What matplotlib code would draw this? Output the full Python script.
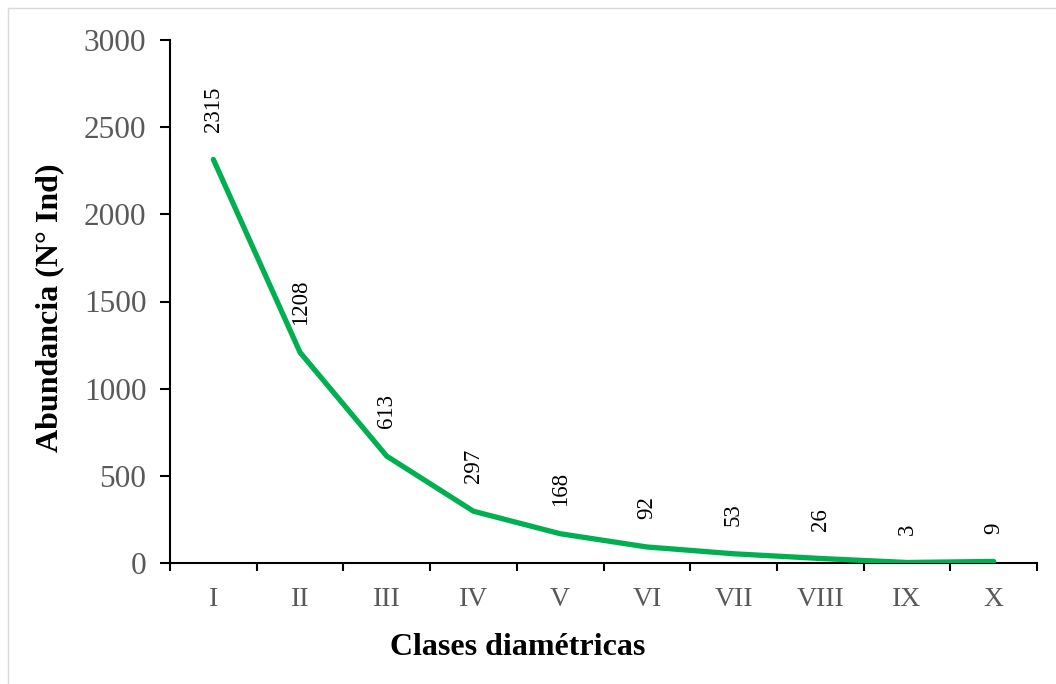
import matplotlib
matplotlib.use("Agg")
import matplotlib.pyplot as plt
from matplotlib.lines import Line2D

categories = ["I", "II", "III", "IV", "V", "VI", "VII", "VIII", "IX", "X"]
abundance = [2315, 1208, 613, 297, 168, 92, 53, 26, 3, 9]
y_ticks = [0, 500, 1000, 1500, 2000, 2500, 3000]

plt.rcParams['font.family'] = ['Liberation Serif', 'DejaVu Serif']

fig = plt.figure(figsize=(10.56, 6.84), dpi=100)
ax = fig.add_axes([170/1056, 1-563/684, (1037-170)/1056, (563-40)/684])

x = list(range(len(categories)))
ax.plot(x, abundance, color='#00B050', lw=3.8, solid_capstyle='round', solid_joinstyle='round', zorder=3)
for xi, v in zip(x, abundance):
    ax.annotate(str(v), (xi, v), xytext=(0, 20), textcoords='offset points',
                rotation=90, ha='center', va='bottom', fontsize=16.5, color='black')

ax.set_xlim(-0.5, len(categories) - 0.5)
ax.set_ylim(0, 3000)
ax.set_yticks(y_ticks)
ax.set_yticklabels([str(t) for t in y_ticks])
ax.set_xticks(x)
ax.set_xticklabels(categories)
ax.set_xticks([i - 0.5 for i in range(len(categories) + 1)], minor=True)
ax.tick_params(axis='x', which='major', length=0, pad=17, labelsize=20, labelcolor='#595959')
ax.tick_params(axis='x', which='minor', length=6, width=1.5, direction='out', color='black')
ax.tick_params(axis='y', length=7, width=1.5, direction='out', pad=10, labelsize=22.5, labelcolor='#595959')

for s in ['top', 'right']:
    ax.spines[s].set_visible(False)
for s in ['left', 'bottom']:
    ax.spines[s].set_linewidth(1.5)
    ax.spines[s].set_color('black')

ax.set_xlabel('Clases diamétricas', fontsize=23, fontweight='bold', labelpad=16)
ax.xaxis.set_label_coords(0.401, -0.133)
ax.set_ylabel('Abundancia (N° Ind)', fontsize=23, fontweight='bold', labelpad=14)
ax.yaxis.set_label_coords(-0.122, 0.4876)

# light figure border (top and left visible in reference)
fig.add_artist(Line2D([8/1056, 8/1056], [0, 1-8/684], transform=fig.transFigure, color='#d9d9d9', lw=1))
fig.add_artist(Line2D([8/1056, 1], [1-8/684, 1-8/684], transform=fig.transFigure, color='#d9d9d9', lw=1))

fig.savefig('out.png', dpi=100)
